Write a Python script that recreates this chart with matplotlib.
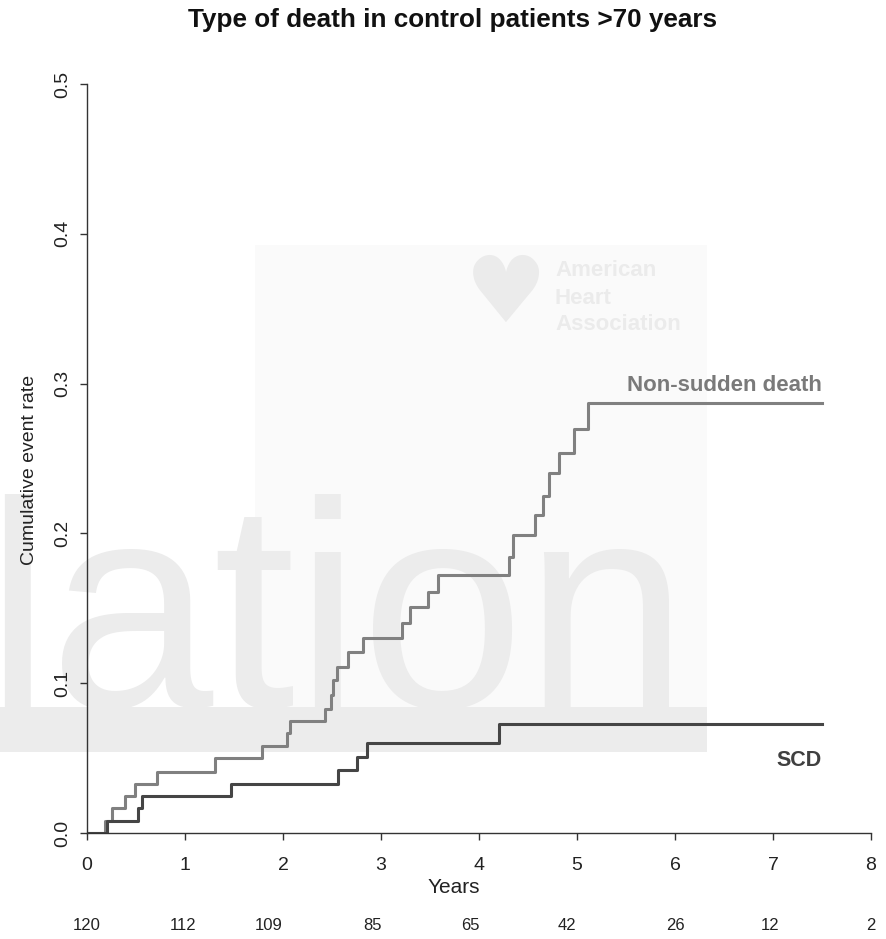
import matplotlib
matplotlib.use("Agg")
import matplotlib.pyplot as plt
import matplotlib.transforms as mtransforms
from matplotlib.patches import Rectangle

plt.rcParams['font.family'] = ['Liberation Sans', 'DejaVu Sans']

# Kaplan-Meier style cumulative event curves (time in years, cumulative rate after each step)
nonsudden_t = [0, 0.18, 0.25, 0.39, 0.49, 0.71, 1.31, 1.79, 2.04, 2.07, 2.43, 2.49, 2.51, 2.55,
               2.66, 2.82, 3.21, 3.30, 3.48, 3.58, 4.31, 4.35, 4.57, 4.65, 4.71, 4.82, 4.97, 5.11, 7.5]
nonsudden_v = [0, 0.0083, 0.0167, 0.025, 0.033, 0.041, 0.050, 0.058, 0.067, 0.075, 0.083, 0.092, 0.102, 0.111,
               0.121, 0.130, 0.140, 0.151, 0.161, 0.172, 0.184, 0.199, 0.212, 0.225, 0.240, 0.254, 0.270, 0.287, 0.287]

scd_t = [0, 0.20, 0.52, 0.56, 1.47, 2.56, 2.76, 2.86, 4.20, 7.5]
scd_v = [0, 0.0083, 0.0167, 0.025, 0.033, 0.042, 0.051, 0.060, 0.073, 0.073]

# numbers at risk under each year tick
risk_years = [0, 1, 2, 3, 4, 5, 6, 7, 8]
at_risk = [120, 112, 109, 85, 65, 42, 26, 12, 2]

W, H = 886, 939
fig = plt.figure(figsize=(W / 100, H / 100), dpi=100)

# faint journal watermark behind the plot
wm = '#ececec'
fig.add_artist(Rectangle((255 / W, 1 - 707 / H), (707 - 255) / W, (707 - 245) / H,
                         transform=fig.transFigure, color='#fafafa', zorder=-3, lw=0))
fig.add_artist(Rectangle((0, 1 - 752 / H), 707 / W, 45 / H,
                         transform=fig.transFigure, color=wm, zorder=-2, lw=0))
fig.text(-16 / W, 1 - 707 / H, 'lation', fontsize=212, color=wm, ha='left', va='baseline', zorder=-2)
fig.text(506 / W, 1 - 296 / H, '\u2665', family='DejaVu Sans', fontsize=66, color='#ebebeb',
         ha='center', va='center', zorder=-2)
for txt, yy in [('American', 270), ('Heart', 298), ('Association', 325)]:
    fig.text(555 / W, 1 - yy / H, txt, fontsize=16, fontweight='bold', color='#ebebeb',
             ha='left', va='center', zorder=-2)

ax = fig.add_axes([87 / W, 1 - 833 / H, (871 - 87) / W, (833 - 84) / H])
ax.set_facecolor('none')

ax.step(nonsudden_t, nonsudden_v, where='post', color='#808080', lw=2.2)
ax.step(scd_t, scd_v, where='post', color='#454545', lw=2.2)

ax.set_xlim(0, 8)
ax.set_ylim(0, 0.5)
ax.set_xticks(range(0, 9))
ax.set_yticks([0, 0.1, 0.2, 0.3, 0.4, 0.5])
ax.set_yticklabels(['0.0', '0.1', '0.2', '0.3', '0.4', '0.5'], rotation=90, va='center')

for s in ['top', 'right']:
    ax.spines[s].set_visible(False)
for s in ['left', 'bottom']:
    ax.spines[s].set_color('#333333')
    ax.spines[s].set_linewidth(1.0)
ax.tick_params(axis='both', direction='out', length=5, width=1, color='#333333',
               labelsize=14, labelcolor='#222222')
ax.tick_params(axis='x', pad=12)
ax.tick_params(axis='y', pad=6)

ax.set_xlabel('Years', fontsize=15, color='#222222')
ax.xaxis.set_label_coords(0.468, -0.060)
ax.set_ylabel('Cumulative event rate', fontsize=14, color='#222222')
ax.yaxis.set_label_coords(-0.062, 0.485)

ax.text(7.5, 0.299, 'Non-sudden death', fontsize=16, fontweight='bold', color='#7a7a7a',
        ha='right', va='center')
ax.text(7.5, 0.0487, 'SCD', fontsize=15.5, fontweight='bold', color='#404040',
        ha='right', va='center')

# the at-risk row sits slightly left of some ticks in the original
risk_nudge = [0, -0.02, -0.15, -0.09, -0.09, -0.10, 0, -0.03, 0]
trans = mtransforms.blended_transform_factory(ax.transData, fig.transFigure)
for yr, dx, n in zip(risk_years, risk_nudge, at_risk):
    ax.text(yr + dx, 1 - 925 / H, str(n), transform=trans, fontsize=12, color='#222222',
            ha='center', va='center', clip_on=False)

fig.text(453 / W, 1 - 20 / H, 'Type of death in control patients >70 years', fontsize=18.8,
         fontweight='bold', color='#111111', ha='center', va='center')

fig.savefig('out.png', dpi=100)
